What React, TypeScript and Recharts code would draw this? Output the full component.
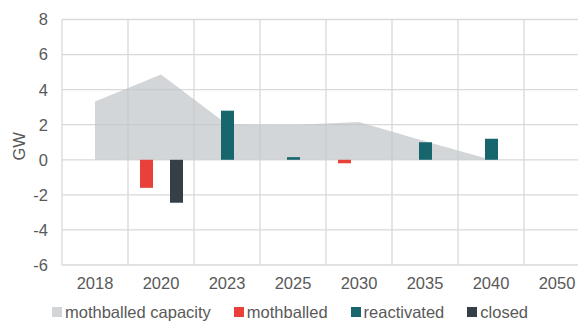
import {
  Area,
  Bar,
  CartesianGrid,
  ComposedChart,
  Label,
  Legend,
  XAxis,
  YAxis,
} from "recharts";

const years = ["2018", "2020", "2023", "2025", "2030", "2035", "2040", "2050"];
const capacity = [3.33, 4.86, 2.02, 1.98, 2.15, 1.05, 0, null];
const mothballed = [null, -1.6, null, null, -0.2, null, null, null];
const reactivated = [null, null, 2.8, 0.15, null, 1.0, 1.2, null];
const closed = [null, -2.45, null, null, null, null, null, null];
const yTicks = [-6, -4, -2, 0, 2, 4, 6, 8];

const data = years.map((year, i) => ({
  year,
  capacity: capacity[i],
  mothballed: mothballed[i],
  reactivated: reactivated[i],
  closed: closed[i],
}));

const TEXT = "#595959";
const FONT = "'Liberation Sans', Arial, sans-serif";

const legendItems = [
  { name: "mothballed capacity", color: "#d2d5d8" },
  { name: "mothballed", color: "#e8413a" },
  { name: "reactivated", color: "#17666e" },
  { name: "closed", color: "#363f48" },
];

function ChartLegend() {
  return (
    <div
      style={{
        display: "flex",
        alignItems: "center",
        paddingLeft: 52,
        fontFamily: FONT,
        fontSize: 16.5,
        color: TEXT,
        height: 24,
        position: "relative",
        top: 2,
      }}
    >
      {legendItems.map((item) => (
        <div
          key={item.name}
          style={{ display: "flex", alignItems: "center", marginRight: 23 }}
        >
          <span
            style={{
              width: 10,
              height: 10,
              background: item.color,
              marginRight: 3,
              display: "inline-block",
            }}
          />
          <span>{item.name}</span>
        </div>
      ))}
    </div>
  );
}

export default function App() {
  return (
    <div
      style={{
        position: "fixed",
        top: 0,
        left: 0,
        width: 578,
        height: 322,
        overflow: "hidden",
        background: "#fff",
      }}
    >
      <ComposedChart
        width={592}
        height={322}
        data={data}
        margin={{ top: 19.5, right: 2, left: 0, bottom: 0 }}
        barSize={13}
        barGap={2}
      >
        <CartesianGrid
          stroke="#d9d9d9"
          strokeWidth={1.3}
          verticalCoordinatesGenerator={({ offset }: any) =>
            years
              .map((_, i) => offset.left + (i * offset.width) / years.length)
              .concat(offset.left + offset.width)
          }
        />
        <XAxis
          dataKey="year"
          tickLine={false}
          axisLine={false}
          tickMargin={6}
          height={33}
          tick={{ fontSize: 16.5, fill: TEXT, fontFamily: FONT }}
        />
        <YAxis
          domain={[-6, 8]}
          ticks={yTicks}
          interval={0}
          width={62}
          tickLine={false}
          axisLine={false}
          tickMargin={8}
          tick={{ fontSize: 16.5, fill: TEXT, fontFamily: FONT }}
        >
          <Label
            content={({ viewBox }: any) => {
              const cx = 19;
              const cy = viewBox.y + viewBox.height / 2 + 4;
              return (
                <text
                  x={cx}
                  y={cy}
                  transform={`rotate(-90 ${cx} ${cy})`}
                  textAnchor="middle"
                  dominantBaseline="central"
                  fill={TEXT}
                  fontSize={16.5}
                  fontFamily={FONT}
                >
                  GW
                </text>
              );
            }}
          />
        </YAxis>
        <Legend verticalAlign="bottom" content={<ChartLegend />} />
        <Area
          type="linear"
          dataKey="capacity"
          name="mothballed capacity"
          stroke="none"
          fill="#bfc4c8"
          fillOpacity={0.7}
          isAnimationActive={false}
        />
        <Bar
          dataKey="mothballed"
          name="mothballed"
          fill="#e8413a"
          isAnimationActive={false}
        />
        <Bar
          dataKey="reactivated"
          name="reactivated"
          fill="#17666e"
          isAnimationActive={false}
        />
        <Bar
          dataKey="closed"
          name="closed"
          fill="#363f48"
          isAnimationActive={false}
        />
      </ComposedChart>
    </div>
  );
}
